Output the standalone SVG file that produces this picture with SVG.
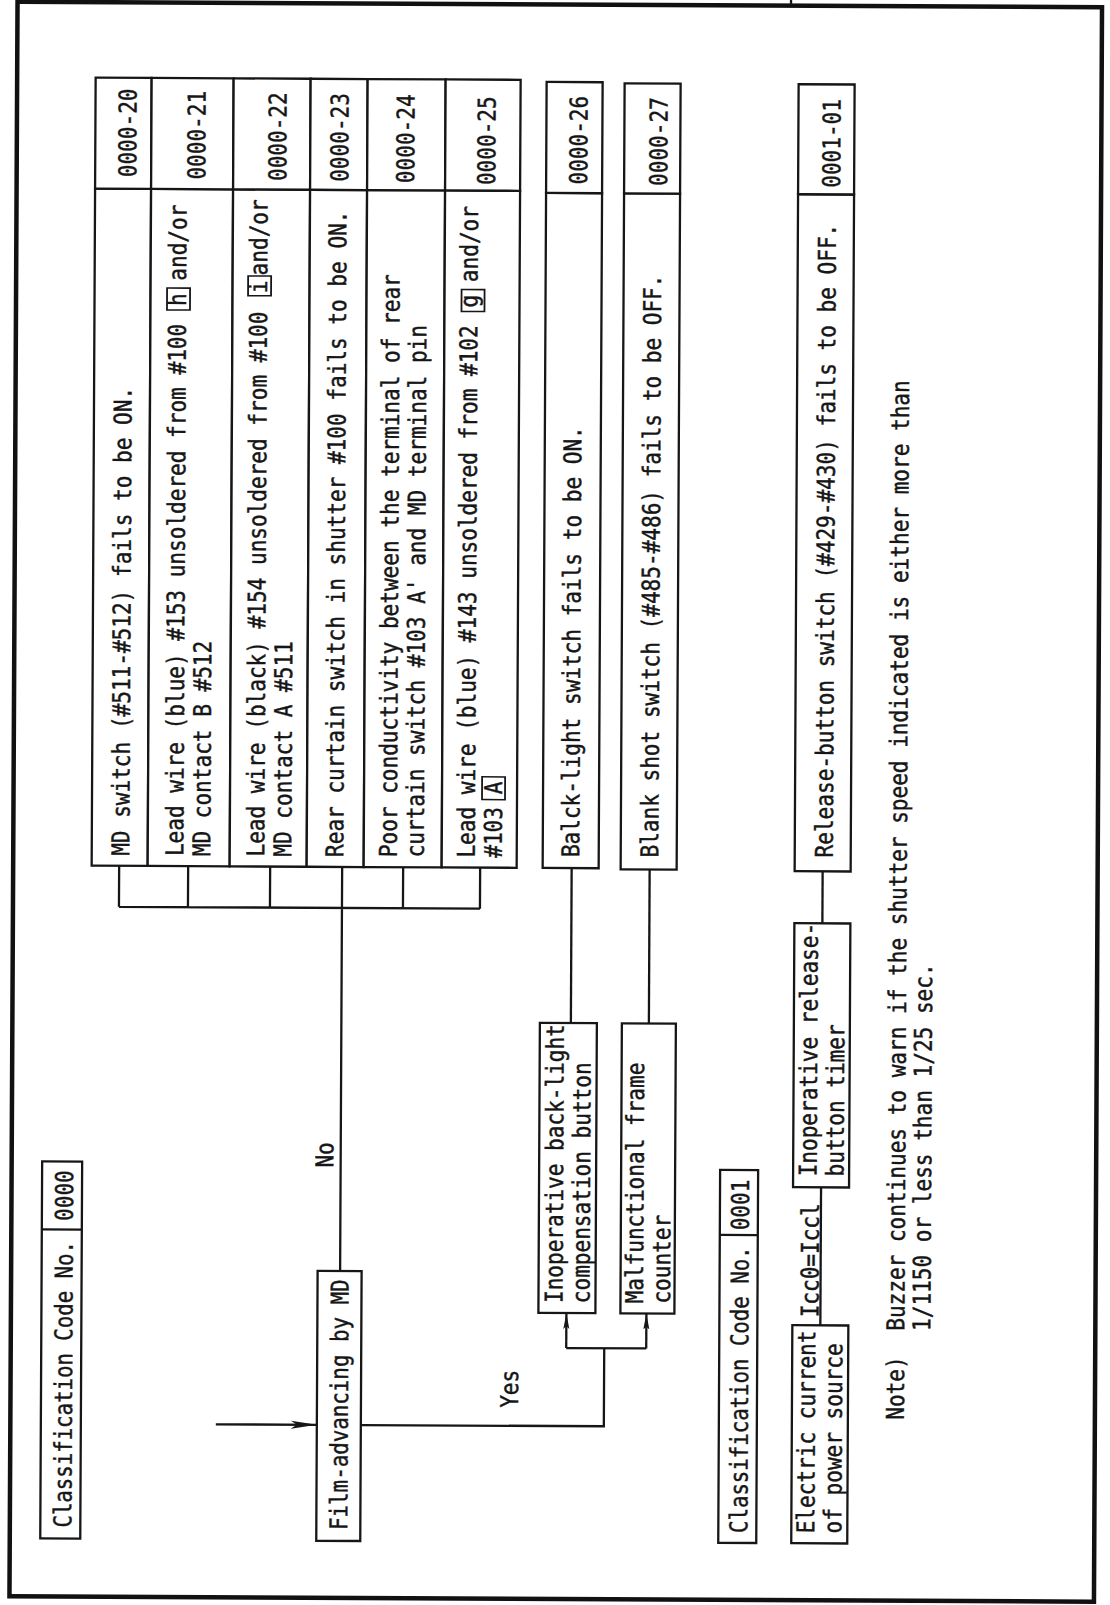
<svg xmlns="http://www.w3.org/2000/svg" width="1110" height="1605" viewBox="0 0 1110 1605">
<style>
.ln{fill:none;stroke:#161616;stroke-width:2.3}
.bx{fill:#fff;stroke:#161616;stroke-width:2.3}
.frame{fill:none;stroke:#111;stroke-width:4.5}
.t{font-family:"DejaVu Sans Mono","Liberation Mono",monospace;font-size:24.5px;fill:#161616;stroke:#161616;stroke-width:0.45;white-space:pre}
.m{text-anchor:middle}
.lb{fill:none;stroke:#161616;stroke-width:1.8}
</style>
<defs>
<marker id="ah" markerUnits="userSpaceOnUse" viewBox="0 0 26 10" refX="26" refY="5" markerWidth="26" markerHeight="10" orient="auto"><path d="M0,1 L26,5 L0,9 L6,5 Z" fill="#161616"/></marker>
<marker id="ahs" markerUnits="userSpaceOnUse" viewBox="0 0 16 8" refX="16" refY="4" markerWidth="16" markerHeight="8" orient="auto"><path d="M0,1 L16,4 L0,7 L3,4 Z" fill="#161616"/></marker>
</defs>
<rect width="1110" height="1605" fill="#fff"/>
<g transform="rotate(0.29 555 800)">
<g id="frame">
<rect class="frame" x="13.5" y="4.5" width="1084.5" height="1594.5"/>
<line class="ln" x1="787" y1="-4" x2="787" y2="4.5"/>
</g>

<g id="class-0000">
<rect class="bx" x="44" y="1164" width="40" height="377"/>
<line class="ln" x1="44" y1="1232" x2="84" y2="1232"/>
<text class="t" transform="translate(75,1530) rotate(-90) scale(0.845,1)">Classification Code No.</text>
<text class="t m" transform="translate(75,1198) rotate(-90) scale(0.86,1)">0000</text>
</g>

<g id="film-advancing">
<rect class="bx" x="320" y="1272" width="44" height="270"/>
<text class="t" transform="translate(351,1531) rotate(-90) scale(0.85,1)">Film-advancing by MD</text>
</g>

<g id="r20">
<rect class="bx" x="92" y="191" width="56" height="677"/>
<rect class="bx" x="92" y="80" width="56" height="111"/>
<text class="t m" transform="translate(133,135) rotate(-90) scale(0.86,1)">0000-20</text>
<text class="t" transform="translate(129.5,858) rotate(-90) scale(0.86,1)">MD switch (#511-#512) fails to be ON.</text>
</g>

<g id="r21">
<rect class="bx" x="148" y="191" width="82" height="677"/>
<rect class="bx" x="148" y="80" width="82" height="111"/>
<text class="t m" transform="translate(202,137) rotate(-90) scale(0.86,1)">0000-21</text>
<g transform="translate(183.5,858) rotate(-90) scale(0.86,1)">
<text class="t">Lead wire (blue) #153 unsoldered from #100 <tspan dx="6">h</tspan> and/or</text>
<rect class="lb" x="635" y="-19" width="25.5" height="23"/>
<text class="t" y="27">MD contact B #512</text>
</g>
</g>

<g id="r22">
<rect class="bx" x="230" y="191" width="77" height="677"/>
<rect class="bx" x="230" y="80" width="77" height="111"/>
<text class="t m" transform="translate(283,138) rotate(-90) scale(0.86,1)">0000-22</text>
<g transform="translate(264.5,858) rotate(-90) scale(0.86,1)">
<text class="t">Lead wire (black) #154 unsoldered from #100 <tspan dx="6.6">i</tspan><tspan dx="6">and/or</tspan></text>
<rect class="lb" x="652" y="-19" width="23" height="23"/>
<text class="t" y="27">MD contact A #511</text>
</g>
</g>

<g id="r23">
<rect class="bx" x="307" y="191" width="57" height="677"/>
<rect class="bx" x="307" y="80" width="57" height="111"/>
<text class="t m" transform="translate(345,138.5) rotate(-90) scale(0.86,1)">0000-23</text>
<text class="t" transform="translate(343.5,858) rotate(-90) scale(0.86,1)">Rear curtain switch in shutter #100 fails to be ON.</text>
</g>

<g id="r24">
<rect class="bx" x="364" y="191" width="78" height="677"/>
<rect class="bx" x="364" y="80" width="78" height="111"/>
<text class="t m" transform="translate(411,139.5) rotate(-90) scale(0.86,1)">0000-24</text>
<text class="t" transform="translate(397,858) rotate(-90) scale(0.86,1)">Poor conductivity between the terminal of rear</text>
<text class="t" transform="translate(424,858) rotate(-90) scale(0.86,1)">curtain switch #103 A' and MD terminal pin</text>
</g>

<g id="r25">
<rect class="bx" x="442" y="191" width="75" height="677"/>
<rect class="bx" x="442" y="80" width="75" height="111"/>
<text class="t m" transform="translate(492,141) rotate(-90) scale(0.86,1)">0000-25</text>
<g transform="translate(475,858) rotate(-90) scale(0.86,1)">
<text class="t">Lead wire (blue) #143 unsoldered from #102 <tspan dx="6">g</tspan> and/or</text>
<rect class="lb" x="635" y="-16" width="25.5" height="23"/>
<text class="t" y="27">#103 A</text>
<rect class="lb" x="67.5" y="7" width="26.5" height="23"/>
</g>
</g>

<g id="r26">
<rect class="bx" x="543" y="193" width="56" height="675"/>
<rect class="bx" x="543" y="82" width="56" height="111"/>
<text class="t m" transform="translate(584,140) rotate(-90) scale(0.86,1)">0000-26</text>
<text class="t" transform="translate(579.5,857) rotate(-90) scale(0.86,1)">Balck-light switch fails to be ON.</text>
</g>

<g id="r27">
<rect class="bx" x="621" y="193" width="56" height="676"/>
<rect class="bx" x="621" y="83" width="56" height="110"/>
<text class="t m" transform="translate(664,141) rotate(-90) scale(0.86,1)">0000-27</text>
<text class="t" transform="translate(658.5,857) rotate(-90) scale(0.86,1)">Blank shot switch (#485-#486) fails to be OFF.</text>
</g>

<g id="r01">
<rect class="bx" x="795" y="193" width="56" height="677"/>
<rect class="bx" x="795" y="83" width="56" height="110"/>
<text class="t m" transform="translate(837,142) rotate(-90) scale(0.86,1)">0001-01</text>
<text class="t" transform="translate(833,856) rotate(-90) scale(0.86,1)">Release-button switch (#429-#430) fails to be OFF.</text>
</g>

<g id="backlight-button">
<rect class="bx" x="541" y="1023" width="57" height="290"/>
<text class="t" transform="translate(565,1303) rotate(-90) scale(0.86,1)">Inoperative back-light</text>
<text class="t" transform="translate(592,1303) rotate(-90) scale(0.86,1)">compensation button</text>
</g>

<g id="frame-counter">
<rect class="bx" x="623" y="1023" width="54" height="290"/>
<text class="t" transform="translate(645.5,1303) rotate(-90) scale(0.86,1)">Malfunctional frame</text>
<text class="t" transform="translate(672.5,1303) rotate(-90) scale(0.86,1)">counter</text>
</g>

<g id="release-timer">
<rect class="bx" x="795" y="922" width="56" height="264"/>
<text class="t" transform="translate(818.5,1175) rotate(-90) scale(0.86,1)">Inoperative release-</text>
<text class="t" transform="translate(845.5,1175) rotate(-90) scale(0.86,1)">button timer</text>
</g>

<g id="power-current">
<rect class="bx" x="795" y="1324" width="56" height="218"/>
<text class="t" transform="translate(818,1532) rotate(-90) scale(0.86,1)">Electric current</text>
<text class="t" transform="translate(845,1532) rotate(-90) scale(0.86,1)">of power source</text>
</g>

<g id="class-0001">
<rect class="bx" x="722" y="1169" width="38" height="373"/>
<line class="ln" x1="722" y1="1234" x2="760" y2="1234"/>
<text class="t" transform="translate(751,1532) rotate(-90) scale(0.845,1)">Classification Code No.</text>
<text class="t m" transform="translate(751,1204) rotate(-90) scale(0.86,1)">0001</text>
</g>

<g id="connectors">
<path class="ln" d="M119.5,868 V909 M188.5,868 V909 M270.5,868 V909 M403.5,868 V909 M480.5,868 V909 M119.5,909 H480.5 M342.5,868 V1272"/>
<path class="ln" d="M219,1426 H320" marker-end="url(#ah)"/>
<path class="ln" d="M364,1426 H607 V1348"/>
<path class="ln" d="M569,1348 H649"/>
<path class="ln" d="M569,1348 V1313" marker-end="url(#ahs)"/>
<path class="ln" d="M649,1348 V1313" marker-end="url(#ahs)"/>
<path class="ln" d="M572,868 V1023"/>
<path class="ln" d="M650,869 V1023"/>
<path class="ln" d="M823,870 V922"/>
<path class="ln" d="M823,1186 V1324"/>
<text class="t m" transform="translate(335,1156) rotate(-90) scale(0.86,1)">No</text>
<text class="t m" transform="translate(521,1389) rotate(-90) scale(0.86,1)">Yes</text>
<text class="t" transform="translate(821,1316) rotate(-90) scale(0.86,1)">Icc0=Iccl</text>
</g>

<g id="note">
<text class="t" transform="translate(907,1418) rotate(-90) scale(0.86,1)">Note)</text>
<text class="t" transform="translate(907,1329) rotate(-90) scale(0.86,1)">Buzzer continues to warn if the shutter speed indicated is either more than</text>
<text class="t" transform="translate(933,1329) rotate(-90) scale(0.86,1)">1/1150 or less than 1/25 sec.</text>
</g>
</g>
</svg>
